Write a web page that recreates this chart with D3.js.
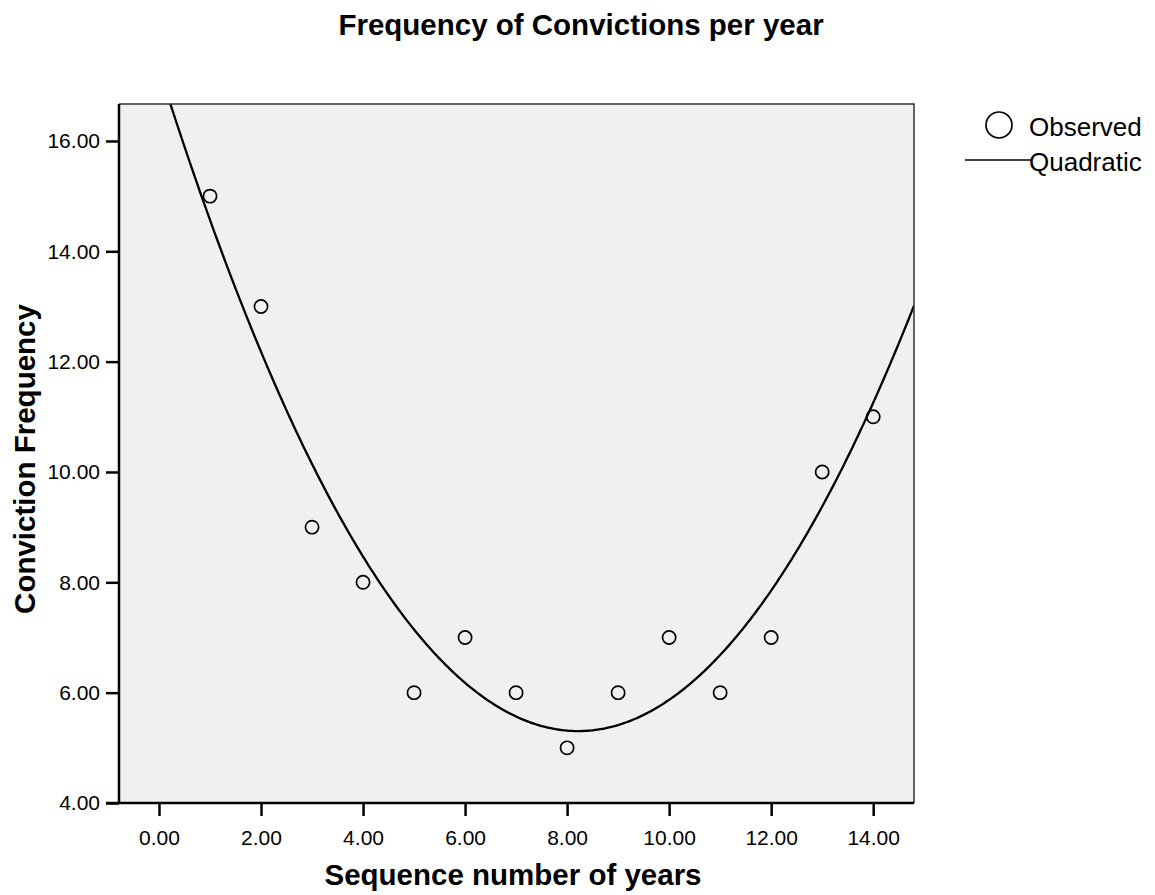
<!DOCTYPE html>
<html><head><meta charset="utf-8">
<script src="https://cdn.jsdelivr.net/npm/d3@7/dist/d3.min.js"></script>
<style>body{margin:0;background:#fff;} text{font-family:"Liberation Sans",Arial,sans-serif;}</style>
</head><body>
<svg id="chart" width="1155" height="895"></svg>
<script>
const years = [1,2,3,4,5,6,7,8,9,10,11,12,13,14];
const convictions = [15,13,9,8,6,7,6,5,6,7,6,7,10,11];
const xTicks = [0,2,4,6,8,10,12,14];
const yTicks = [4,6,8,10,12,14,16];
const titleText = "Frequency of Convictions per year";
const xLabel = "Sequence number of years";
const yLabel = "Conviction Frequency";
const legendLabels = ["Observed","Quadratic"];

// least-squares quadratic fit of the observed data
function quadFit(xs, ys){
  const n=xs.length; let s=[0,0,0,0,0], t=[0,0,0];
  for(let i=0;i<n;i++){const xv=xs[i],yv=ys[i];
    for(let k=0;k<5;k++) s[k]+=Math.pow(xv,k);
    for(let k=0;k<3;k++) t[k]+=yv*Math.pow(xv,k);}
  const A=[[s[0],s[1],s[2],t[0]],[s[1],s[2],s[3],t[1]],[s[2],s[3],s[4],t[2]]];
  for(let i=0;i<3;i++){for(let j=i+1;j<3;j++){const f=A[j][i]/A[i][i];for(let k=i;k<4;k++)A[j][k]-=f*A[i][k];}}
  const c=[0,0,0];
  for(let i=2;i>=0;i--){let v=A[i][3];for(let k=i+1;k<3;k++)v-=A[i][k]*c[k];c[i]=v/A[i][i];}
  return c;
}
const coef = quadFit(years, convictions);

const svg = d3.select("#chart");
const L=119, R=914, T=104, B=803;
const x = d3.scaleLinear().domain([-0.784,14.8]).range([L,R]);
const y = d3.scaleLinear().domain([4,16.67]).range([B,T]);

svg.append("rect").attr("x",L).attr("y",T).attr("width",R-L).attr("height",B-T).attr("fill","#f0f0f0");
svg.append("defs").append("clipPath").attr("id","clip").append("rect").attr("x",L).attr("y",T).attr("width",R-L).attr("height",B-T);

// fitted curve
const xs = d3.range(-0.8, 14.85, 0.05);
const line = d3.line().x(d=>x(d)).y(d=>y(coef[0]+coef[1]*d+coef[2]*d*d));
svg.append("path").attr("d",line(xs)).attr("fill","none").attr("stroke","#000").attr("stroke-width",2.3).attr("clip-path","url(#clip)");

// observed points
svg.selectAll("circle.pt").data(years).enter().append("circle").attr("class","pt")
  .attr("cx",(d)=>x(d)).attr("cy",(d,i)=>y(convictions[i])).attr("r",6.6)
  .attr("fill","none").attr("stroke","#000").attr("stroke-width",1.7);

// border top/right
svg.append("path").attr("d",`M${L},${T}H${R}V${B}`).attr("fill","none").attr("stroke","#333").attr("stroke-width",1.5);

// axes
const xAxis = d3.axisBottom(x).tickValues(xTicks).tickFormat(d3.format(".2f")).tickSizeOuter(0).tickSizeInner(13).tickPadding(14);
const gx = svg.append("g").attr("transform",`translate(0,${B})`).call(xAxis);
const yAxis = d3.axisLeft(y).tickValues(yTicks).tickFormat(d3.format(".2f")).tickSizeOuter(0).tickSizeInner(13).tickPadding(6);
const gy = svg.append("g").attr("transform",`translate(${L},0)`).call(yAxis);
[gx,gy].forEach(g=>{
  g.select(".domain").attr("stroke","#000").attr("stroke-width",2.5);
  g.selectAll(".tick line").attr("stroke","#000").attr("stroke-width",2.5);
  g.selectAll(".tick text").attr("fill","#000").style("font-size","21px").style("font-family","'Liberation Sans',Arial,sans-serif");
});
gx.select(".domain").attr("d",`M${L-13},0H${R}`);
gy.select(".domain").attr("d",`M0,${T}V${B}`);

// titles
svg.append("text").attr("x",581).attr("y",35).attr("text-anchor","middle").style("font-size","29.5px").style("font-weight","bold").text(titleText);
svg.append("text").attr("x",513).attr("y",885).attr("text-anchor","middle").style("font-size","29.5px").style("font-weight","bold").text(xLabel);
svg.append("text").attr("transform","translate(35,459) rotate(-90)").attr("text-anchor","middle").style("font-size","29.5px").style("font-weight","bold").text(yLabel);

// legend
svg.append("circle").attr("cx",999).attr("cy",125).attr("r",13).attr("fill","none").attr("stroke","#000").attr("stroke-width",1.7);
svg.append("text").attr("x",1029).attr("y",136).style("font-size","26px").text(legendLabels[0]);
svg.append("line").attr("x1",965).attr("x2",1032).attr("y1",160).attr("y2",160).attr("stroke","#000").attr("stroke-width",1.7);
svg.append("text").attr("x",1029).attr("y",171).style("font-size","26px").text(legendLabels[1]);
</script>
</body></html>
